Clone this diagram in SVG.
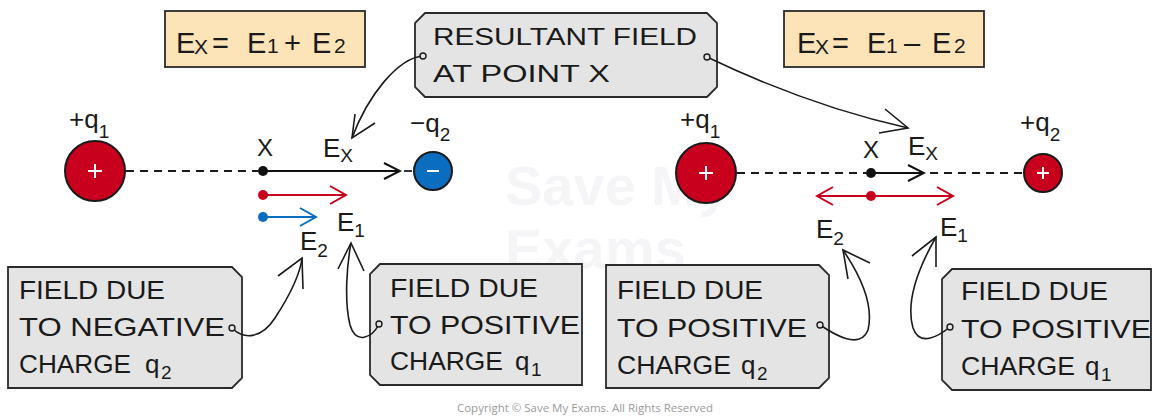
<svg xmlns="http://www.w3.org/2000/svg" width="1153" height="418" viewBox="0 0 1153 418">
<style>
text{font-family:"Liberation Sans","DejaVu Sans",sans-serif;fill:#1a1a1a}
.t{font-size:26px}
.s{font-size:19px}
.f{font-size:29px}
.fs{font-size:21px}
.box{fill:#e4e4e4;stroke:#2a2a2a;stroke-width:1.8}
.fbox{fill:#fde3b8;stroke:#2a2a2a;stroke-width:1.8}
.con{fill:none;stroke:#1a1a1a;stroke-width:1.6}
.dot{fill:#e4e4e4;stroke:#1a1a1a;stroke-width:1.4}
.dash{stroke:#1a1a1a;stroke-width:1.8;stroke-dasharray:8 6}
.vk{stroke:#111;stroke-width:2;fill:none}
.vr{stroke:#c8001e;stroke-width:2;fill:none}
.vb{stroke:#0a6dbf;stroke-width:2;fill:none}
.sym{stroke:#fff;stroke-width:2}
.wm{font-family:"Liberation Sans",sans-serif;font-weight:bold;font-size:56px}
</style>
<defs>
<marker id="ak" viewBox="0 0 20 20" refX="18" refY="10" markerWidth="20" markerHeight="20" markerUnits="userSpaceOnUse" orient="auto-start-reverse"><path d="M2,2 L18,10 L2,18" fill="none" stroke="#111" stroke-width="2"/></marker>
<marker id="ar" viewBox="0 0 20 20" refX="18" refY="10" markerWidth="20" markerHeight="20" markerUnits="userSpaceOnUse" orient="auto-start-reverse"><path d="M2,1 L18,10 L2,19" fill="none" stroke="#c8001e" stroke-width="2"/></marker>
<marker id="ab" viewBox="0 0 20 20" refX="18" refY="10" markerWidth="20" markerHeight="20" markerUnits="userSpaceOnUse" orient="auto-start-reverse"><path d="M2,1 L18,10 L2,19" fill="none" stroke="#0a6dbf" stroke-width="2"/></marker>
</defs>
<rect width="1153" height="418" fill="#fff"/>
<g id="watermark">
<text class="wm" x="505" y="205" style="fill:#f5f5f7">Save My</text>
<text class="wm" x="505" y="268" style="fill:#f5f5f7">Exams</text>
</g>

<g id="formula-left">
<rect class="fbox" x="165" y="11" width="200" height="56"/>
<text class="f" x="176" y="53">E</text><text class="fs" x="194" y="54">X</text>
<text class="f" x="212" y="53">=</text>
<text class="f" x="247" y="53">E</text><text class="fs" x="267" y="53">1</text>
<text class="f" x="284" y="53">+</text>
<text class="f" x="312" y="53">E</text><text class="fs" x="334" y="53">2</text>
</g>
<g id="formula-right">
<rect class="fbox" x="784" y="11" width="200" height="56"/>
<text class="f" x="797" y="53">E</text><text class="fs" x="815" y="54">X</text>
<text class="f" x="832" y="53">=</text>
<text class="f" x="867" y="53">E</text><text class="fs" x="886" y="53">1</text>
<text class="f" x="904" y="53">–</text>
<text class="f" x="932" y="53">E</text><text class="fs" x="954" y="53">2</text>
</g>
<g id="resultant-label">
<path class="box" d="M425,13 H707 L717,23 V87 L707,97 H425 L415,87 V23 Z"/>
<text class="t" x="433" y="45" textLength="264" lengthAdjust="spacingAndGlyphs" style="font-size:24px">RESULTANT FIELD</text>
<text class="t" x="433" y="82" textLength="177" lengthAdjust="spacingAndGlyphs" style="font-size:24px">AT POINT X</text>
</g>

<g id="left-q1">
<circle cx="95" cy="171" r="30" fill="#c8001e" stroke="#1a1a1a" stroke-width="2"/>
<path class="sym" d="M88,171 H102 M95,164 V178"/>
<text class="t" x="69" y="128">+q<tspan class="s" dy="10">1</tspan></text>
</g>
<g id="left-q2">
<circle cx="433" cy="171" r="19" fill="#0a6dbf" stroke="#1a1a1a" stroke-width="2"/>
<path class="sym" d="M427,171 H439"/>
<text class="t" x="410" y="132">−q<tspan class="s" dy="9">2</tspan></text>
</g>
<g id="left-point-x">
<circle cx="263" cy="171" r="5" fill="#111"/>
<text class="t" x="265" y="156" text-anchor="middle" style="font-size:24px">X</text>
<text class="t" x="323" y="157">E<tspan class="s" dy="5">X</tspan></text>
</g>
<g id="left-vectors">
<line class="dash" x1="126" y1="171" x2="258" y2="171"/>
<line class="vk" x1="263" y1="171" x2="400" y2="171" marker-end="url(#ak)"/>
<line class="dash" x1="404" y1="171" x2="414" y2="171"/>
<circle cx="263" cy="195" r="5" fill="#c8001e"/>
<line class="vr" x1="263" y1="195" x2="346" y2="195" marker-end="url(#ar)"/>
<circle cx="263" cy="217" r="5" fill="#0a6dbf"/>
<line class="vb" x1="263" y1="217" x2="316" y2="217" marker-end="url(#ab)"/>
<text class="t" x="337" y="231">E<tspan class="s" dy="6">1</tspan></text>
<text class="t" x="300" y="250">E<tspan class="s" dy="7">2</tspan></text>
</g>

<g id="right-q1">
<circle cx="706" cy="173" r="30" fill="#c8001e" stroke="#1a1a1a" stroke-width="2"/>
<path class="sym" d="M699,173 H713 M706,166 V180"/>
<text class="t" x="680" y="128">+q<tspan class="s" dy="10">1</tspan></text>
</g>
<g id="right-q2">
<circle cx="1043" cy="173" r="19" fill="#c8001e" stroke="#1a1a1a" stroke-width="2"/>
<path class="sym" d="M1037,173 H1049 M1043,167 V179"/>
<text class="t" x="1020" y="131">+q<tspan class="s" dy="10">2</tspan></text>
</g>
<g id="right-point-x">
<circle cx="871" cy="173" r="5" fill="#111"/>
<text class="t" x="871" y="158" text-anchor="middle" style="font-size:24px">X</text>
<text class="t" x="908" y="155">E<tspan class="s" dy="5">X</tspan></text>
</g>
<g id="right-vectors">
<line class="dash" x1="737" y1="173" x2="866" y2="173"/>
<line class="vk" x1="871" y1="173" x2="924" y2="173" marker-end="url(#ak)"/>
<line class="dash" x1="930" y1="173" x2="1023" y2="173"/>
<line class="vr" x1="817" y1="196" x2="953" y2="196" marker-start="url(#ar)" marker-end="url(#ar)"/>
<circle cx="871" cy="196" r="5" fill="#c8001e"/>
<text class="t" x="816" y="238">E<tspan class="s" dy="7">2</tspan></text>
<text class="t" x="940" y="236">E<tspan class="s" dy="6">1</tspan></text>
</g>

<g id="box-neg-q2">
<path class="box" d="M8,267 H232 L242,277 V378 L232,388 H8 Z"/>
<text class="t" x="19" y="299" textLength="146" lengthAdjust="spacingAndGlyphs">FIELD DUE</text>
<text class="t" x="19" y="336" textLength="206" lengthAdjust="spacingAndGlyphs">TO NEGATIVE</text>
<text class="t" x="19" y="373"><tspan textLength="112" lengthAdjust="spacingAndGlyphs">CHARGE</tspan><tspan x="145">q</tspan><tspan class="s" dy="6" x="161">2</tspan></text>
</g>
<g id="box-pos-q1-left">
<path class="box" d="M380,264 H582 V385 H380 L370,375 V274 Z"/>
<text class="t" x="390" y="297" textLength="148" lengthAdjust="spacingAndGlyphs">FIELD DUE</text>
<text class="t" x="390" y="334" textLength="190" lengthAdjust="spacingAndGlyphs">TO POSITIVE</text>
<text class="t" x="390" y="370"><tspan textLength="113" lengthAdjust="spacingAndGlyphs">CHARGE</tspan><tspan x="515">q</tspan><tspan class="s" dy="6" x="531">1</tspan></text>
</g>
<g id="box-pos-q2-right">
<path class="box" d="M606,265 H819 L829,275 V378 L819,388 H606 Z"/>
<text class="t" x="617" y="299" textLength="146" lengthAdjust="spacingAndGlyphs">FIELD DUE</text>
<text class="t" x="617" y="337" textLength="190" lengthAdjust="spacingAndGlyphs">TO POSITIVE</text>
<text class="t" x="617" y="374"><tspan textLength="114" lengthAdjust="spacingAndGlyphs">CHARGE</tspan><tspan x="741">q</tspan><tspan class="s" dy="6" x="757">2</tspan></text>
</g>
<g id="box-pos-q1-right">
<path class="box" d="M952,269 H1151 V390 H952 L942,380 V279 Z"/>
<text class="t" x="961" y="300" textLength="147" lengthAdjust="spacingAndGlyphs">FIELD DUE</text>
<text class="t" x="961" y="338" textLength="190" lengthAdjust="spacingAndGlyphs">TO POSITIVE</text>
<text class="t" x="961" y="375"><tspan textLength="114" lengthAdjust="spacingAndGlyphs">CHARGE</tspan><tspan x="1085">q</tspan><tspan class="s" dy="6" x="1101">1</tspan></text>
</g>

<g id="connectors">
<path class="con" d="M423,56 C398,58 368,95 352,138"/>
<path class="con" d="M355,114 L352,138 L375,123"/>
<circle class="dot" cx="423" cy="56" r="3"/>
<path class="con" d="M707,57 C780,92 850,115 908,128"/>
<path class="con" d="M885,109 L908,128 L879,133"/>
<circle class="dot" cx="707" cy="57" r="3"/>
<path class="con" d="M233,329 C245,340 262,338 275,318 C290,295 300,275 302,258"/>
<path class="con" d="M278,276 L302,258 L303,289"/>
<circle class="dot" cx="232" cy="328" r="3"/>
<path class="con" d="M379,324 C372,338 356,345 350,325 C344,300 347,265 351,243"/>
<path class="con" d="M338,269 L351,243 L364,271"/>
<circle class="dot" cx="379" cy="324" r="3"/>
<path class="con" d="M820,325 C835,335 860,350 868,330 C874,305 860,275 843,250"/>
<path class="con" d="M848,279 L843,250 L870,263"/>
<circle class="dot" cx="820" cy="325" r="3"/>
<path class="con" d="M950,327 C940,335 920,348 913,328 C905,300 920,265 936,237"/>
<path class="con" d="M912,256 L936,237 L936,267"/>
<circle class="dot" cx="950" cy="327" r="3"/>
</g>

<text x="457" y="412" font-size="11" style="fill:#9a9a9a;font-family:'Open Sans','Liberation Sans',sans-serif" textLength="256" lengthAdjust="spacingAndGlyphs">Copyright © Save My Exams. All Rights Reserved</text>
</svg>
